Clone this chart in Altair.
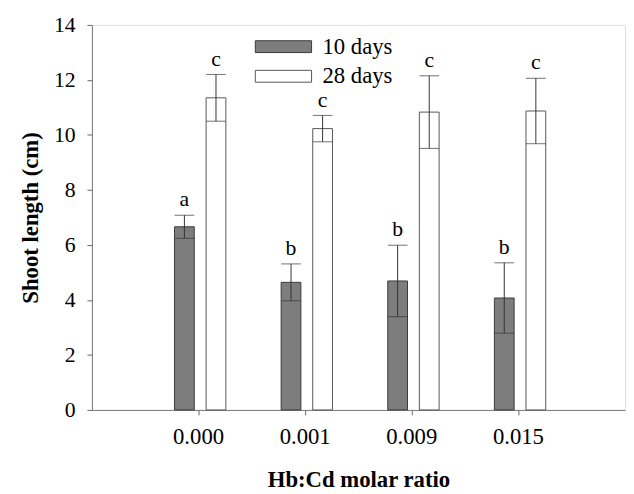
import altair as alt
import pandas as pd

doses = ["0.000", "0.001", "0.009", "0.015"]
groups = ["10 days", "28 days"]
mean10 = [6.66, 4.64, 4.69, 4.07]
err10 = [0.42, 0.67, 1.30, 1.28]
mean28 = [11.35, 10.23, 10.83, 10.87]
err28 = [0.85, 0.48, 1.32, 1.19]
letters10 = ["a", "b", "b", "b"]
letters28 = ["c", "c", "c", "c"]

rows = []
for g, means, errs, lets in [(groups[0], mean10, err10, letters10),
                             (groups[1], mean28, err28, letters28)]:
    for d, m, e, l in zip(doses, means, errs, lets):
        rows.append({"dose": d, "group": g, "mean": m,
                     "lo": m - e, "hi": m + e, "letter": l})
df = pd.DataFrame(rows)

FONT = "Liberation Serif"

x = alt.X("dose:N", sort=doses,
          scale=alt.Scale(paddingInner=0, paddingOuter=0.5),
          axis=alt.Axis(title="Hb:Cd molar ratio", labelAngle=0,
                        labelFont=FONT, labelFontSize=23, labelColor="black",
                        labelBaseline="alphabetic", labelPadding=29,
                        tickSize=5, tickColor="#666", domainColor="#777",
                        titleFont=FONT, titleFontSize=23, titleFontWeight="bold",
                        titleColor="black", titleBaseline="alphabetic",
                        titleY=78, titleX=270))
xoff = alt.XOffset("group:N", sort=groups,
                   scale=alt.Scale(domain=groups, paddingInner=0.375,
                                   paddingOuter=0.875, align=0.53))

base = alt.Chart(df).encode(x=x, xOffset=xoff)

bars = base.mark_bar(strokeWidth=1, stroke="#3a3a3a").encode(
    y=alt.Y("mean:Q", scale=alt.Scale(domain=[0, 14], nice=False),
            axis=alt.Axis(title="Shoot length (cm)", values=list(range(0, 15, 2)),
                          format="d", grid=False,
                          labelFont=FONT, labelFontSize=22, labelColor="black",
                          labelPadding=12, tickSize=5, tickColor="#666",
                          domainColor="#777",
                          titleFont=FONT, titleFontSize=23, titleFontWeight="bold",
                          titleColor="black", titleAngle=-90,
                          titleBaseline="alphabetic", titleAlign="center",
                          titleX=-55, titleY=195)),
    fill=alt.Fill("group:N", sort=groups,
                  scale=alt.Scale(domain=groups, range=["#7d7d7d", "#ffffff"]),
                  legend=alt.Legend(title=None, orient="none", legendX=182.5, legendY=10.5,
                                    symbolType="M-4.75,-1H4.75V1H-4.75Z", symbolSize=144,
                                    symbolStrokeColor="#3a3a3a", symbolStrokeWidth=1,
                                    symbolOpacity=1,
                                    labelFont=FONT, labelFontSize=23, labelColor="black",
                                    labelOffset=28, rowPadding=6, padding=0)),
    stroke=alt.Stroke("group:N", sort=groups,
                      scale=alt.Scale(domain=groups, range=["#3a3a3a", "#555555"]),
                      legend=None),
)

rule = base.mark_rule(color="#333", strokeWidth=1).encode(y="lo:Q", y2="hi:Q")
cap_hi = base.mark_tick(color="#333", size=20, thickness=1).encode(y="hi:Q")
cap_lo = base.mark_tick(color="#333", size=20, thickness=1).encode(y="lo:Q")
labels = base.mark_text(font=FONT, fontSize=22, color="black",
                        baseline="alphabetic", dy=-9).encode(y="hi:Q", text="letter:N")

chart = alt.layer(bars, rule, cap_lo, cap_hi, labels).properties(
    width=540, height=390,
    autosize=alt.AutoSizeParams(type="none"),
    padding={"left": 85, "top": 14, "right": 1, "bottom": 82},
).configure_view(stroke="#333", strokeWidth=1).configure(background="white")

chart.save("out.html", embed_options={"renderer": "svg", "actions": False})
